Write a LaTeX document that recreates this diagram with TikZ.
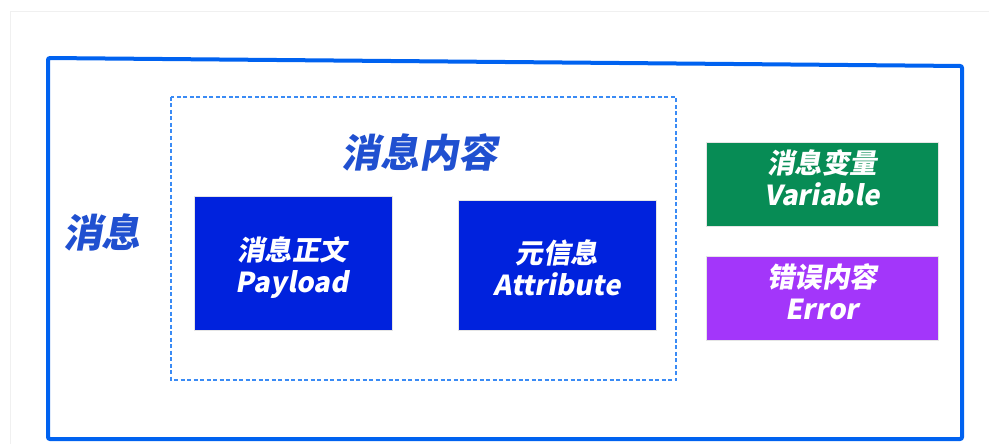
\documentclass[tikz,border=0pt]{standalone}
\usepackage{fontspec}
\newfontfamily\cjk[FakeSlant=0.18]{Noto Sans CJK SC}
\definecolor{frameblue}{HTML}{0062F0}
\definecolor{dashblue}{HTML}{3A8BF5}
\definecolor{titleblue}{HTML}{2050D0}
\definecolor{boxblue}{HTML}{0022DD}
\definecolor{boxgreen}{HTML}{078C55}
\definecolor{boxpurple}{HTML}{A336FA}
\begin{document}
\begin{tikzpicture}[x=1pt,y=-1pt,
  box/.style={draw=white!80!gray, line width=0.4pt, align=center, inner sep=0pt},
  boxtext/.style={text=white, align=center, inner sep=0pt, font=\cjk\bfseries\fontsize{27.5}{32}\selectfont},
  title/.style={text=titleblue, font=\cjk\bfseries\fontsize{39}{44}\selectfont, inner sep=0pt}]
\useasboundingbox (0,0) rectangle (989,444);
\fill[white] (0,0) rectangle (989,444);
\draw[gray!12, line width=1pt] (10,444) -- (10,12) -- (989,12);
% outer frame
\draw[frameblue, line width=4pt, rounded corners=2pt] (48,58) -- (962,66) -- (962,439) -- (48,439) -- cycle;
% dashed group
\draw[dashblue, line width=1.2pt, dash pattern=on 4pt off 2.5pt] (171,97) rectangle (676,380);
\node[title] (msg) at (102,232) {消息};
\node[title] (content) at (419,152) {消息内容};
\node[box, fill=boxblue, minimum width=198pt, minimum height=134pt] (payload) at (293,263) {};
\node[box, fill=boxblue, minimum width=198pt, minimum height=130pt] (attr) at (557,265) {};
\node[box, fill=boxgreen, minimum width=232pt, minimum height=84pt] (var) at (822,184) {};
\node[box, fill=boxpurple, minimum width=232pt, minimum height=84pt] (err) at (822,298) {};
\node[boxtext] (payloadt) at (292,268) {消息正文\\Payload};
\node[boxtext] (attrt) at (557,268) {元信息\\Attribute};
\node[boxtext] (vart) at (822,178) {消息变量\\Variable};
\node[boxtext] (errt) at (822,292) {错误内容\\Error};
\end{tikzpicture}
\end{document}
